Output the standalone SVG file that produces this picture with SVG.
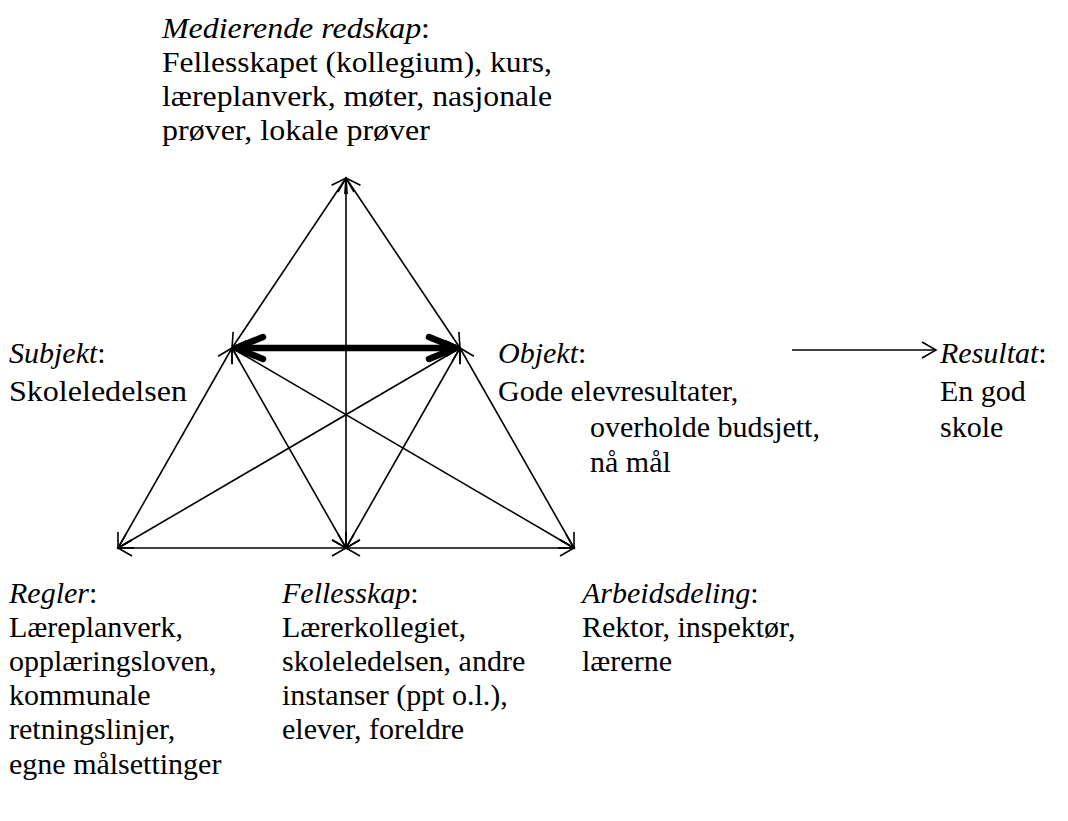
<svg xmlns="http://www.w3.org/2000/svg" width="1068" height="821" viewBox="0 0 1068 821">
<style>
.i{font-style:italic}
.c line{stroke:#000;stroke-width:1.6;fill:none}
</style>
<defs>
<marker id="a" markerUnits="userSpaceOnUse" markerWidth="40" markerHeight="40" viewBox="-20 -20 40 40" refX="0" refY="0" orient="auto-start-reverse">
<path d="M-14,-8 L0,0 L-14,8" fill="none" stroke="#000" stroke-width="1.6"/>
</marker>
<marker id="t" markerUnits="userSpaceOnUse" markerWidth="80" markerHeight="80" viewBox="-40 -40 80 80" refX="0" refY="0" orient="auto-start-reverse">
<path d="M-27,-11 L0,0 L-27,11" fill="none" stroke="#000" stroke-width="6.5" stroke-linecap="round" stroke-linejoin="round"/>
</marker>
</defs>
<g id="connectors" class="c">
<line x1="346" y1="178" x2="232" y2="348" marker-start="url(#a)" marker-end="url(#a)"/>
<line x1="346" y1="178" x2="460" y2="348" marker-start="url(#a)" marker-end="url(#a)"/>
<line x1="346" y1="178" x2="346" y2="548" marker-start="url(#a)" marker-end="url(#a)"/>
<line x1="232" y1="348" x2="118" y2="548" marker-start="url(#a)" marker-end="url(#a)"/>
<line x1="232" y1="348" x2="346" y2="548" marker-start="url(#a)" marker-end="url(#a)"/>
<line x1="232" y1="348" x2="574" y2="548" marker-start="url(#a)" marker-end="url(#a)"/>
<line x1="460" y1="348" x2="118" y2="548" marker-start="url(#a)" marker-end="url(#a)"/>
<line x1="460" y1="348" x2="346" y2="548" marker-start="url(#a)" marker-end="url(#a)"/>
<line x1="460" y1="348" x2="574" y2="548" marker-start="url(#a)" marker-end="url(#a)"/>
<line x1="118" y1="548" x2="346" y2="548" marker-start="url(#a)" marker-end="url(#a)"/>
<line x1="346" y1="548" x2="574" y2="548" marker-start="url(#a)" marker-end="url(#a)"/>
<line x1="236" y1="348" x2="456" y2="348" style="stroke-width:6.5;stroke-linecap:round" marker-start="url(#t)" marker-end="url(#t)"/>
<line x1="792" y1="350" x2="936" y2="350" marker-end="url(#a)"/>
</g>
<g font-family="'Liberation Serif', 'Times New Roman', serif" font-size="30" fill="#000">
<g id="medierende">
<text x="162" y="38" textLength="268" lengthAdjust="spacingAndGlyphs"><tspan class="i">Medierende redskap</tspan>:</text>
<text x="162" y="72" textLength="390" lengthAdjust="spacingAndGlyphs">Fellesskapet (kollegium), kurs,</text>
<text x="162" y="106" textLength="390" lengthAdjust="spacingAndGlyphs">læreplanverk, møter, nasjonale</text>
<text x="162" y="140" textLength="268" lengthAdjust="spacingAndGlyphs">prøver, lokale prøver</text>
</g>
<g id="subjekt">
<text x="9" y="363"><tspan class="i">Subjekt</tspan>:</text>
<text x="9" y="401" textLength="178" lengthAdjust="spacingAndGlyphs">Skoleledelsen</text>
</g>
<g id="objekt">
<text x="498" y="363"><tspan class="i">Objekt</tspan>:</text>
<text x="498" y="401">Gode elevresultater,</text>
<text x="590" y="437">overholde budsjett,</text>
<text x="590" y="472">nå mål</text>
</g>
<g id="resultat">
<text x="940" y="363"><tspan class="i">Resultat</tspan>:</text>
<text x="940" y="401">En god</text>
<text x="940" y="437">skole</text>
</g>
<g id="regler">
<text x="9" y="603"><tspan class="i">Regler</tspan>:</text>
<text x="9" y="637">Læreplanverk,</text>
<text x="9" y="671">opplæringsloven,</text>
<text x="9" y="705">kommunale</text>
<text x="9" y="739">retningslinjer,</text>
<text x="9" y="774">egne målsettinger</text>
</g>
<g id="fellesskap">
<text x="282" y="603"><tspan class="i">Fellesskap</tspan>:</text>
<text x="282" y="637">Lærerkollegiet,</text>
<text x="282" y="671">skoleledelsen, andre</text>
<text x="282" y="705">instanser (ppt o.l.),</text>
<text x="282" y="739">elever, foreldre</text>
</g>
<g id="arbeidsdeling">
<text x="582" y="603"><tspan class="i">Arbeidsdeling</tspan>:</text>
<text x="582" y="637">Rektor, inspektør,</text>
<text x="582" y="671">lærerne</text>
</g>
</g>
</svg>
